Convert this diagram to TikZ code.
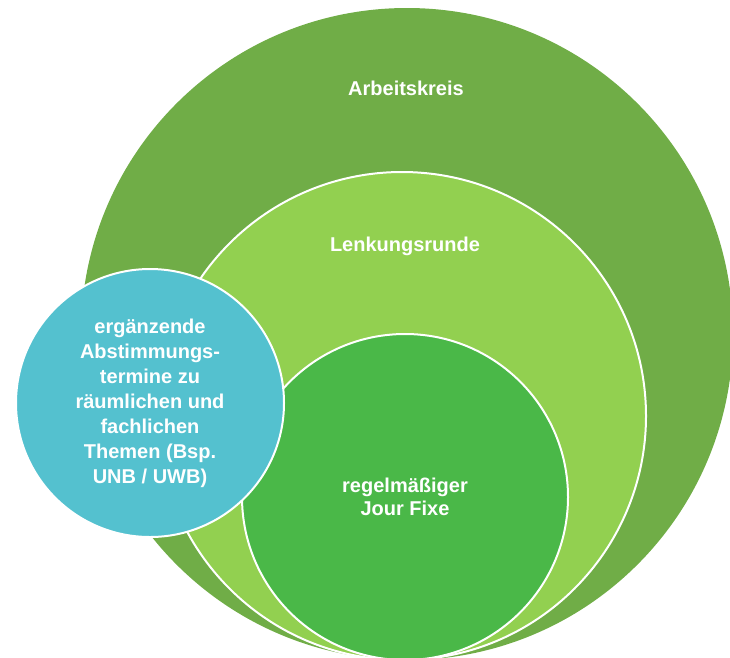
\documentclass[tikz,border=0pt]{standalone}
\usepackage{fontspec}
\setmainfont{Liberation Sans}
\definecolor{akgreen}{RGB}{112,173,71}
\definecolor{lrgreen}{RGB}{146,208,80}
\definecolor{jfgreen}{RGB}{74,184,72}
\definecolor{tblue}{RGB}{84,193,207}
\tikzset{
  ring/.style={circle, draw=white, line width=2pt, inner sep=0pt, text=white,
    font=\bfseries\fontsize{20}{25}\selectfont, align=center},
  lbl/.style={text=white, font=\bfseries\fontsize{20}{24}\selectfont, align=center, inner sep=0pt}
}
\begin{document}
\begin{tikzpicture}[x=1pt,y=-1pt]
\useasboundingbox (0,0) rectangle (730,657);
\clip (0,0) rectangle (730,657);
\node[ring, fill=akgreen, draw=none, minimum size=652] (ak) at (407,334) {};
\node[ring, fill=lrgreen, minimum size=488] (lr) at (402,416) {};
\node[ring, fill=jfgreen, minimum size=326, font=\bfseries\fontsize{20}{23}\selectfont] (jf) at (405,497) {regelmäßiger\\Jour Fixe};
\node[ring, fill=tblue, minimum size=268] (bl) at (150,403) {ergänzende\\Abstimmungs-\\termine zu\\räumlichen und\\fachlichen\\Themen (Bsp.\\UNB / UWB)};
\node[lbl] (akt) at (406,88) {Arbeitskreis};
\node[lbl] (lrt) at (405,246) {Lenkungsrunde};
\end{tikzpicture}
\end{document}
